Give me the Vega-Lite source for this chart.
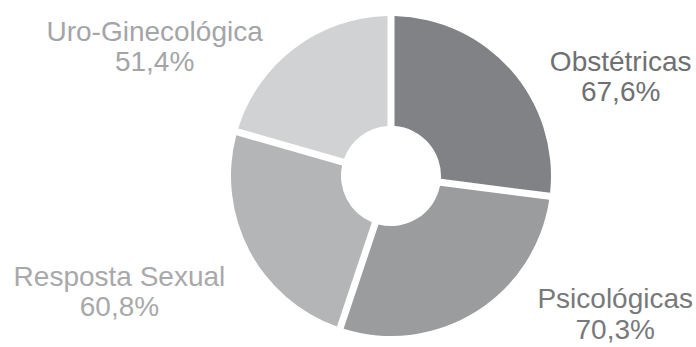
{
  "$schema": "https://vega.github.io/schema/vega-lite/v6.json",
  "width": 610,
  "height": 340,
  "padding": {"left": 86, "top": 6, "right": 0, "bottom": 0},
  "autosize": {"type": "none"},
  "background": "white",
  "data": {
    "values": [
      {"categoria": "Obstétricas", "valor": 67.6, "rotulo": "67,6%"},
      {"categoria": "Psicológicas", "valor": 70.3, "rotulo": "70,3%"},
      {"categoria": "Resposta Sexual", "valor": 60.8, "rotulo": "60,8%"},
      {"categoria": "Uro-Ginecológica", "valor": 51.4, "rotulo": "51,4%"}
    ]
  },
  "encoding": {
    "theta": {"field": "valor", "type": "quantitative", "stack": true}
  },
  "layer": [
    {
      "mark": {"type": "arc", "innerRadius": 50, "outerRadius": 160, "padAngle": 0.042},
      "encoding": {
        "color": {
          "field": "categoria", "type": "nominal", "legend": null,
          "scale": {
            "domain": ["Obstétricas", "Psicológicas", "Resposta Sexual", "Uro-Ginecológica"],
            "range": ["#818285", "#9b9c9e", "#b4b5b7", "#d1d2d4"]
          }
        }
      }
    },
    {
      "mark": {
        "type": "text", "radius": 230, "font": "Liberation Sans", "fontSize": 28,
        "align": "center", "baseline": "alphabetic",
        "dx": {"expr": "datum.categoria === 'Obstétricas' ? 57 : datum.categoria === 'Psicológicas' ? 102 : datum.categoria === 'Resposta Sexual' ? -68 : -98"},
        "dy": {"expr": "datum.categoria === 'Obstétricas' ? 47 : datum.categoria === 'Psicológicas' ? -63 : datum.categoria === 'Resposta Sexual' ? 3 : 49"}
      },
      "encoding": {
        "text": {"field": "categoria"},
        "color": {
          "field": "categoria", "type": "nominal", "legend": null,
          "scale": {
            "domain": ["Obstétricas", "Psicológicas", "Resposta Sexual", "Uro-Ginecológica"],
            "range": ["#6f7072", "#78797b", "#a9a9ab", "#a4a5a7"]
          }
        }
      }
    },
    {
      "mark": {
        "type": "text", "radius": 230, "font": "Liberation Sans", "fontSize": 28,
        "align": "center", "baseline": "alphabetic",
        "dx": {"expr": "datum.categoria === 'Obstétricas' ? 57 : datum.categoria === 'Psicológicas' ? 102 : datum.categoria === 'Resposta Sexual' ? -68 : -98"},
        "dy": {"expr": "datum.categoria === 'Obstétricas' ? 77 : datum.categoria === 'Psicológicas' ? -32 : datum.categoria === 'Resposta Sexual' ? 33 : 79"}
      },
      "encoding": {
        "text": {"field": "rotulo"},
        "color": {
          "field": "categoria", "type": "nominal", "legend": null,
          "scale": {
            "domain": ["Obstétricas", "Psicológicas", "Resposta Sexual", "Uro-Ginecológica"],
            "range": ["#6f7072", "#78797b", "#a9a9ab", "#a4a5a7"]
          }
        }
      }
    }
  ],
  "resolve": {"scale": {"color": "independent"}},
  "config": {"view": {"stroke": null}}
}
